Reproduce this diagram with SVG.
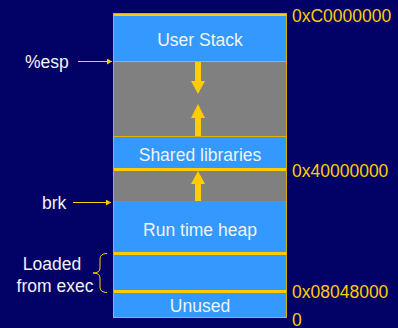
<svg xmlns="http://www.w3.org/2000/svg" width="398" height="328" viewBox="0 0 398 328">
  <style>
    .blue { fill: #3399FF; }
    .gray { fill: #808080; }
    .band { fill: #FFCC00; }
    .lbl { font-family: "Liberation Sans", Arial, sans-serif; font-size: 17.5px; fill: #F2F2F2; }
    .mid { text-anchor: middle; }
    .addr { font-family: "Liberation Sans", Arial, sans-serif; font-size: 17.5px; fill: #FFCC00; }
    .ptr { stroke: #FFCC00; stroke-width: 1; fill: none; }
    .grow { stroke: #FFCC00; stroke-width: 6; fill: none; }
    .head { fill: #FFCC00; }
  </style>
  <defs>
    <marker id="ah" markerWidth="6" markerHeight="6" refX="5" refY="3" orient="auto" markerUnits="userSpaceOnUse">
      <path d="M0,0 L5,3 L0,6 Z" fill="#FFCC00"/>
    </marker>
  </defs>
  <rect x="0" y="0" width="398" height="328" fill="#020266"/>

  <g id="user-stack">
    <rect class="band" x="113" y="13" width="174" height="3"/>
    <rect class="blue" x="113" y="16" width="174" height="45"/>
    <text class="lbl mid" x="200" y="46">User Stack</text>
  </g>
  <g id="gap-stack">
    <rect class="gray" x="113" y="61" width="174" height="75"/>
    <line x1="113" y1="61.5" x2="287" y2="61.5" stroke="#E0B000" stroke-width="1"/>
    <line x1="113" y1="136.5" x2="287" y2="136.5" stroke="#E0B000" stroke-width="1"/>
  </g>
  <g id="shared-libraries">
    <rect class="blue" x="113" y="137" width="174" height="31"/>
    <rect class="band" x="113" y="168" width="174" height="3"/>
    <text class="lbl mid" x="200" y="161">Shared libraries</text>
  </g>
  <g id="gap-heap">
    <rect class="gray" x="113" y="171" width="174" height="30"/>
  </g>
  <g id="run-time-heap">
    <rect class="blue" x="113" y="201" width="174" height="51"/>
    <line x1="113" y1="201.5" x2="287" y2="201.5" stroke="#6688EE" stroke-width="1"/>
    <text class="lbl mid" x="200" y="236">Run time heap</text>
  </g>
  <g id="loaded">
    <rect class="band" x="113" y="252" width="174" height="3"/>
    <rect class="blue" x="113" y="255" width="174" height="35"/>
    <rect class="band" x="113" y="290" width="174" height="3"/>
  </g>
  <g id="unused">
    <rect class="blue" x="113" y="293" width="174" height="24"/>
    <text class="lbl mid" x="200" y="312">Unused</text>
  </g>
  <rect x="113.5" y="13.5" width="173" height="304" fill="none" stroke="#D8B000" stroke-width="1"/>

  <g id="labels">
    <text class="lbl" x="25" y="68">%esp</text>
    <text class="lbl" x="42" y="209">brk</text>
    <text class="lbl mid" x="52" y="270">Loaded</text>
    <text class="lbl mid" x="55" y="292">from exec</text>
    <text class="addr" x="292" y="22">0xC0000000</text>
    <text class="addr" x="292" y="177">0x40000000</text>
    <text class="addr" x="292" y="298">0x08048000</text>
    <text class="addr" x="292" y="326">0</text>
  </g>

  <g id="connectors">
    <line class="ptr" x1="78" y1="61.5" x2="112" y2="61.5" marker-end="url(#ah)"/>
    <line class="ptr" x1="73" y1="202.5" x2="111" y2="202.5" marker-end="url(#ah)"/>
    <path class="ptr" d="M107,253.5 Q100,253.5 100,259 L100,268 Q100,273 93,273 Q100,273 100,278 L100,287 Q100,292.5 107,292.5"/>
    <line class="grow" x1="198" y1="62" x2="198" y2="82"/>
    <polygon class="head" points="191,81 205,81 198,94"/>
    <line class="grow" x1="198" y1="117" x2="198" y2="136"/>
    <polygon class="head" points="198,104 191,118 205,118"/>
    <line class="grow" x1="198" y1="183" x2="198" y2="201"/>
    <polygon class="head" points="198,171 191,184 205,184"/>
  </g>
</svg>
